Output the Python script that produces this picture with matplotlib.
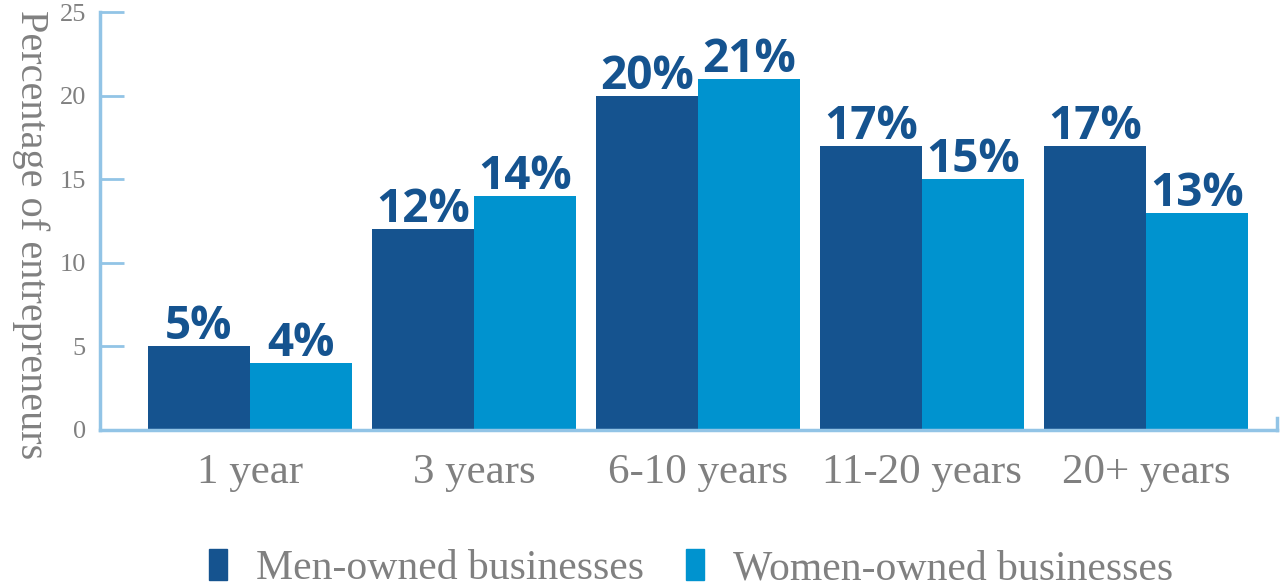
import numpy as np
import matplotlib.pyplot as plt
from matplotlib.patches import Patch

categories = ['1 year', '3 years', '6-10 years', '11-20 years', '20+ years']
men_values = [5, 12, 20, 17, 17]
women_values = [4, 14, 21, 15, 13]
series_names = ['Men-owned businesses', 'Women-owned businesses']

MEN_COLOR = '#15538f'
WOMEN_COLOR = '#0093cf'
SPINE_COLOR = '#92c4e6'
TEXT_GRAY = '#808080'
SERIF = 'Liberation Serif'
BOLD_SANS = 'Open Sans'

fig = plt.figure(figsize=(12.8, 5.87), dpi=100)
ax = fig.add_axes([0.078, 0.2675, 0.9197, 0.712])

x = np.arange(len(categories))
width = 0.455

bars_men = ax.bar(x - width / 2, men_values, width, color=MEN_COLOR)
bars_women = ax.bar(x + width / 2, women_values, width, color=WOMEN_COLOR)

# value labels sit just above each bar
for bars, vals in [(bars_men, men_values), (bars_women, women_values)]:
    for b, v in zip(bars, vals):
        ax.text(b.get_x() + b.get_width() / 2, v + 0.42, '%d%%' % v,
                ha='center', va='baseline', fontsize=33, fontweight='bold',
                family=BOLD_SANS, color=MEN_COLOR)

ax.set_xlim(-0.67, 4.585)
ax.set_ylim(0, 25)
ax.set_yticks([0, 5, 10, 15, 20, 25])
ax.set_xticks(x)
ax.set_xticklabels(categories, family=SERIF, fontsize=31, color=TEXT_GRAY)
ax.tick_params(axis='x', length=0, pad=17)
ax.tick_params(axis='y', direction='in', length=17, width=2, color=SPINE_COLOR,
               labelsize=19, labelcolor=TEXT_GRAY, pad=10)
for lab in ax.get_yticklabels():
    lab.set_family(SERIF)

fig.text(0.024, 0.6, 'Percentage of entrepreneurs', family=SERIF, fontsize=29,
         color=TEXT_GRAY, rotation=270, ha='center', va='center')

for side in ['top', 'right']:
    ax.spines[side].set_visible(False)
for side in ['left', 'bottom']:
    ax.spines[side].set_color(SPINE_COLOR)
    ax.spines[side].set_linewidth(2.5)

# small end tick at the right of the x axis
ax.axvline(ax.get_xlim()[1], ymin=0, ymax=0.028, color=SPINE_COLOR,
           linewidth=2.5, clip_on=False)

handles = [Patch(color=MEN_COLOR), Patch(color=WOMEN_COLOR)]
fig.legend(handles, series_names, loc='lower center', ncol=2,
           bbox_to_anchor=(0.54, -0.066), frameon=False,
           prop={'family': SERIF, 'size': 30},
           labelcolor=TEXT_GRAY, handlelength=0.43, handleheight=0.77,
           handletextpad=0.7, columnspacing=1.0)

fig.savefig('out.png', dpi=100)
